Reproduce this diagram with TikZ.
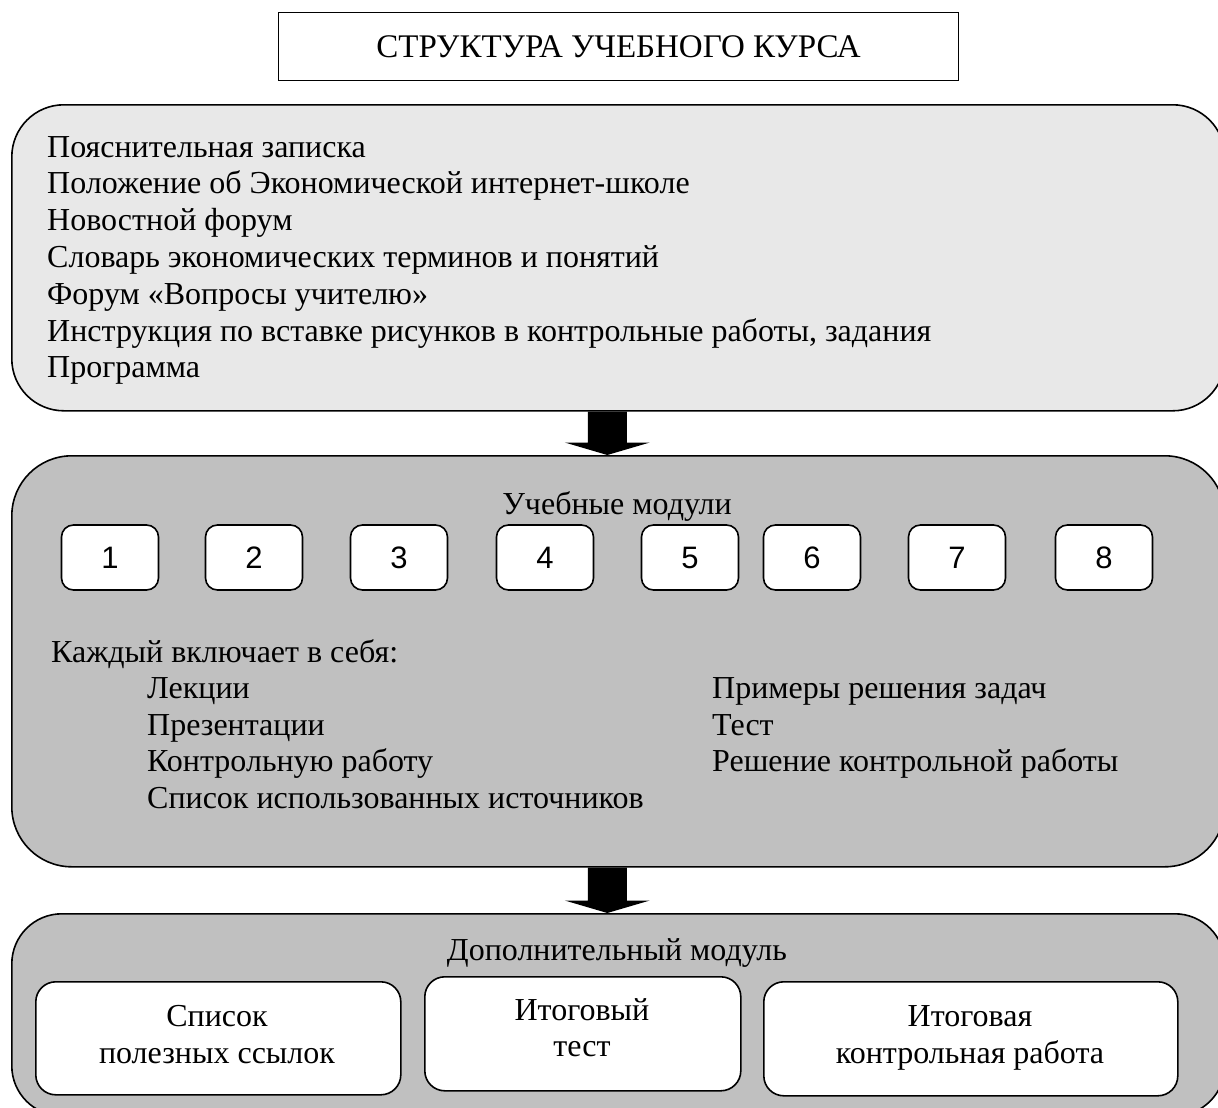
\documentclass[tikz,border=0pt]{standalone}
\usepackage{fontspec}
\setmainfont{Liberation Serif}
\newfontfamily\numfont{Liberation Sans}
\definecolor{lightfill}{HTML}{E8E8E8}
\definecolor{midfill}{HTML}{C0C0C0}
\begin{document}
\begin{tikzpicture}[x=1pt,y=-1pt,
  bigbox/.style={draw, line width=1.6pt, rounded corners=52pt, inner sep=0pt, anchor=north west},
  modbox/.style={draw, fill=white, line width=1.6pt, rounded corners=12pt, inner sep=0pt,
    minimum width=97pt, minimum height=65pt, font=\numfont\fontsize{31}{32}\selectfont},
  endbox/.style={draw, fill=white, line width=1.6pt, rounded corners=20pt, inner sep=0pt, anchor=north west},
  txt/.style={inner sep=0pt, anchor=base west, font=\fontsize{32}{38}\selectfont},
  ctxt/.style={inner sep=0pt, anchor=base, font=\fontsize{32}{38}\selectfont},
  blockarrow/.style={fill=black}]
\useasboundingbox (0,0) rectangle (1218,1108);
\clip (0,0) rectangle (1218,1108);

% title
\node[draw, line width=1.2pt, inner sep=0pt, minimum width=680pt, minimum height=68pt,
  anchor=north west, font=\fontsize{33}{38}\selectfont] (title) at (278,12) {СТРУКТУРА УЧЕБНОГО КУРСА};

% box 1
\node[bigbox, fill=lightfill, minimum width=1213pt, minimum height=306pt] (b1) at (11,104) {};
\node[txt] (l1) at (47,157) {Пояснительная записка};
\node[txt] (l2) at (47,193.8) {Положение об Экономической интернет-школе};
\node[txt] (l3) at (47,230.6) {Новостной форум};
\node[txt] (l4) at (47,267.4) {Словарь экономических терминов и понятий};
\node[txt] (l5) at (47,304.2) {Форум «Вопросы учителю»};
\node[txt] (l6) at (47,341) {Инструкция по вставке рисунков в контрольные работы, задания};
\node[txt] (l7) at (47,377.8) {Программа};

% box 2
\node[bigbox, fill=midfill, minimum width=1213pt, minimum height=411pt, rounded corners=60pt] (b2) at (11,455) {};
\node[ctxt] (um) at (617,514) {Учебные модули};
\node[modbox] (m1) at (110,557.5) {1};
\node[modbox] (m2) at (254,557.5) {2};
\node[modbox] (m3) at (399,557.5) {3};
\node[modbox] (m4) at (545,557.5) {4};
\node[modbox] (m5) at (690,557.5) {5};
\node[modbox] (m6) at (812,557.5) {6};
\node[modbox] (m7) at (957,557.5) {7};
\node[modbox] (m8) at (1104,557.5) {8};
\node[txt] (kv) at (51,662) {Каждый включает в себя:};
\node[txt] (a1) at (147,698) {Лекции};
\node[txt] (a2) at (147,735) {Презентации};
\node[txt] (a3) at (147,771) {Контрольную работу};
\node[txt] (a4) at (147,808) {Список использованных источников};
\node[txt] (c1) at (712,698) {Примеры решения задач};
\node[txt] (c2) at (712,735) {Тест};
\node[txt] (c3) at (712,771) {Решение контрольной работы};

% box 3
\node[bigbox, fill=midfill, minimum width=1213pt, minimum height=202pt, rounded corners=50pt] (b3) at (11,913) {};
\node[ctxt] (dm) at (617,960) {Дополнительный модуль};
\node[endbox, minimum width=365pt, minimum height=113pt] (e1) at (35,981) {};
\node[endbox, minimum width=316pt, minimum height=114pt] (e2) at (424,976) {};
\node[endbox, minimum width=414pt, minimum height=114pt] (e3) at (763,981) {};
\node[ctxt] (e1a) at (217,1026) {Список};
\node[ctxt] (e1b) at (217,1063) {полезных ссылок};
\node[ctxt] (e2a) at (582,1020) {Итоговый};
\node[ctxt] (e2b) at (582,1056) {тест};
\node[ctxt] (e3a) at (970,1026) {Итоговая};
\node[ctxt] (e3b) at (970,1063) {контрольная работа};

% block arrows
\fill[blockarrow] ([xshift=-30.5pt]b1.south) -- ([xshift=8.5pt]b1.south)
  -- ([xshift=8.5pt,yshift=12.5pt]b2.north) -- ([xshift=31.5pt,yshift=12.5pt]b2.north)
  -- ([xshift=-11pt]b2.north) -- ([xshift=-53.5pt,yshift=12.5pt]b2.north)
  -- ([xshift=-30.5pt,yshift=12.5pt]b2.north) -- cycle;
\fill[blockarrow] ([xshift=-30.5pt]b2.south) -- ([xshift=8.5pt]b2.south)
  -- ([xshift=8.5pt,yshift=12.5pt]b3.north) -- ([xshift=31.5pt,yshift=12.5pt]b3.north)
  -- ([xshift=-11pt]b3.north) -- ([xshift=-53.5pt,yshift=12.5pt]b3.north)
  -- ([xshift=-30.5pt,yshift=12.5pt]b3.north) -- cycle;
\end{tikzpicture}
\end{document}
